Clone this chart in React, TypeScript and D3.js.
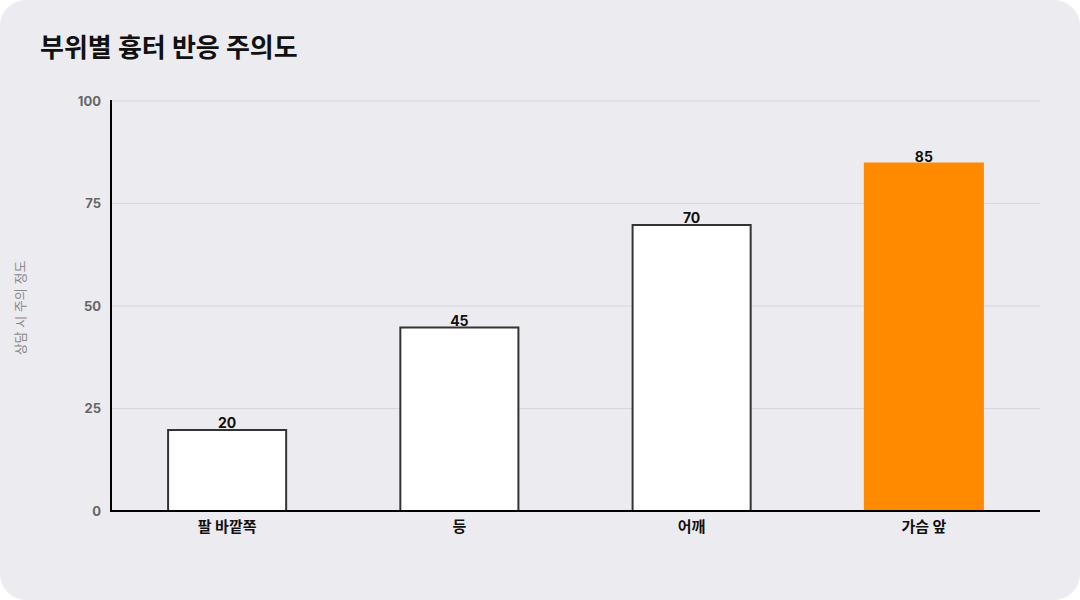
import React from "react";
import * as d3 from "d3";

const title = "부위별 흉터 반응 주의도";
const yAxisLabel = "상담 시 주의 정도";
const categories = ["팔 바깥쪽", "등", "어깨", "가슴 앞"];
const values = [20, 45, 70, 85];
const highlighted = [false, false, false, true];
const yTicks = [0, 25, 50, 75, 100];

const W = 1080;
const H = 600;
const margin = { left: 111, right: 40, top: 101, bottom: 89 };
const FONT = "Inter, 'Noto Sans CJK KR', 'Noto Sans', sans-serif";

export default function App() {
  const x = d3
    .scaleBand<string>()
    .domain(categories)
    .range([margin.left, W - margin.right])
    .paddingInner(0.483)
    .paddingOuter(0.2415);
  const y = d3.scaleLinear().domain([0, 100]).range([H - margin.bottom, margin.top]);
  const x0 = margin.left;
  const x1 = W - margin.right;
  const yBase = y(0);

  return (
    <div style={{ position: "fixed", left: 0, top: 0, width: W, height: H, background: "#fff" }}>
      <svg width={W} height={H} style={{ display: "block" }}>
        <rect x={0} y={0} width={W} height={H} rx={26} ry={26} fill="#ECEBF0" />
        <text x={40} y={57} fontFamily={FONT} fontSize={26} fontWeight={700} fill="#111">
          {title}
        </text>
        {yTicks.map((t) => (
          <g key={t}>
            {t > 0 && (
              <line x1={x0} x2={x1} y1={y(t)} y2={y(t)} stroke="#D6D5DC" strokeWidth={1} />
            )}
            <text
              x={101}
              y={y(t)}
              dy="0.35em"
              textAnchor="end"
              fontFamily={FONT}
              fontSize={13}
              fontWeight={700}
              fill="#666"
            >
              {t}
            </text>
          </g>
        ))}
        <text
          transform={`translate(20, ${(y(0) + y(100)) / 2 + 2}) rotate(-90)`}
          textAnchor="middle"
          dy="0.35em"
          fontFamily={FONT}
          fontSize={13}
          fill="#888"
        >
          {yAxisLabel}
        </text>
        {categories.map((c, i) => {
          const bx = x(c)!;
          const bw = x.bandwidth();
          const top = y(values[i]);
          return (
            <g key={c}>
              {highlighted[i] ? (
                <rect x={bx} y={top} width={bw} height={yBase - top} fill="#FF8A00" />
              ) : (
                <rect
                  x={bx + 1}
                  y={top + 1}
                  width={bw - 2}
                  height={yBase - top - 1}
                  fill="#fff"
                  stroke="#333"
                  strokeWidth={2}
                />
              )}
              <text
                x={bx + bw / 2}
                y={top - 1}
                textAnchor="middle"
                fontFamily={FONT}
                fontSize={14}
                fontWeight={700}
                fill="#111"
              >
                {values[i]}
              </text>
              <text
                x={bx + bw / 2}
                y={yBase + 16}
                dy="0.35em"
                textAnchor="middle"
                fontFamily={FONT}
                fontSize={15}
                fontWeight={700}
                fill="#111"
              >
                {c}
              </text>
            </g>
          );
        })}
        <line x1={x0} x2={x0} y1={y(100) - 1} y2={yBase} stroke="#000" strokeWidth={2} />
        <line x1={x0 - 1} x2={x1} y1={yBase} y2={yBase} stroke="#000" strokeWidth={2} />
      </svg>
    </div>
  );
}
